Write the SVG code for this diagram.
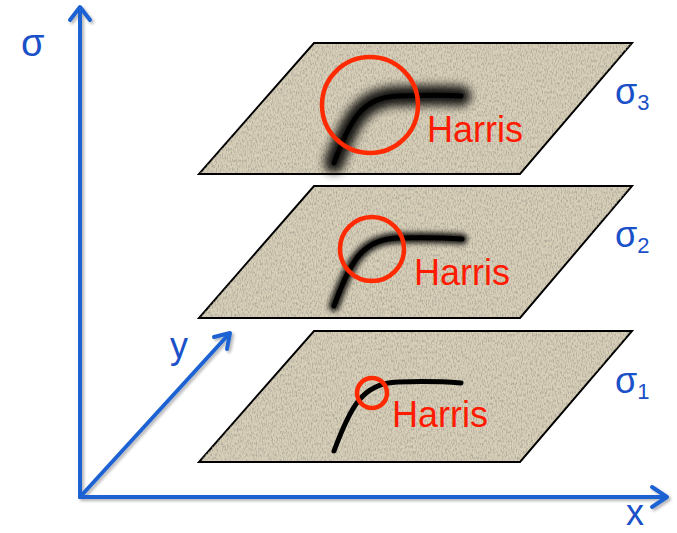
<svg xmlns="http://www.w3.org/2000/svg" width="677" height="533" viewBox="0 0 677 533">
<style>
.plane{fill:#d8cfb8;stroke:#000;stroke-width:2;}
.tex{fill:#000;filter:url(#noise);}
.curve{fill:none;stroke:#000;stroke-width:5;stroke-linecap:round;}
.circ{fill:none;stroke:#ff2a00;stroke-width:4.5;}
.harris{font-family:"Liberation Sans",Arial,sans-serif;font-size:36px;fill:#ff1a00;}
.lbl{font-family:"Liberation Sans",Arial,sans-serif;fill:#1a50c8;}
.axis{fill:none;stroke:#1f62d2;stroke-width:4;stroke-linecap:round;stroke-linejoin:round;}
</style>
<defs>
<filter id="noise" x="0" y="0" width="100%" height="100%">
<feTurbulence type="fractalNoise" baseFrequency="0.8 0.35" numOctaves="2" seed="3"/>
<feColorMatrix type="matrix" values="0 0 0 0 0.42  0 0 0 0 0.39  0 0 0 0 0.32  0 0 0 -2.5 1.45"/>
<feComposite in2="SourceGraphic" operator="in"/>
</filter>
<filter id="blur3" x="-30%" y="-30%" width="160%" height="160%">
<feGaussianBlur stdDeviation="5"/>
</filter>
<filter id="blur2" x="-30%" y="-30%" width="160%" height="160%">
<feGaussianBlur stdDeviation="2.5"/>
</filter>
<filter id="ashadow" x="-20%" y="-20%" width="140%" height="140%">
<feGaussianBlur in="SourceAlpha" stdDeviation="1.5"/>
<feOffset dx="2" dy="2"/>
<feComponentTransfer><feFuncA type="linear" slope="0.3"/></feComponentTransfer>
<feMerge><feMergeNode/><feMergeNode in="SourceGraphic"/></feMerge>
</filter>
</defs>

<g id="plane3">
<polygon class="plane" points="314,43 632,43 520,174 199,174"/>
<polygon class="tex" points="315,44 631,44 519,173 200,173"/>
<path d="M334,163 C350,120 362,97 398,96 C430,95 448,95 461,96" fill="none" stroke="#000" stroke-width="20" stroke-linecap="round" filter="url(#blur3)" opacity="0.9"/>
<path class="curve" d="M334,163 C350,120 362,97 398,96 C430,95 448,95 461,96"/>
<circle class="circ" cx="370" cy="105" r="48"/>
<text class="harris" x="427" y="142">Harris</text>
</g>

<g id="plane2">
<polygon class="plane" points="314,186 632,186 520,318 199,318"/>
<polygon class="tex" points="315,187 631,187 519,317 200,317"/>
<path d="M334,306 C350,262 362,239 398,238 C430,237 448,238 462,239" fill="none" stroke="#000" stroke-width="11" stroke-linecap="round" filter="url(#blur2)" opacity="0.85"/>
<path class="curve" d="M334,306 C350,262 362,239 398,238 C430,237 448,238 462,239"/>
<circle class="circ" cx="372" cy="249" r="32"/>
<text class="harris" x="414" y="285">Harris</text>
</g>

<g id="plane1">
<polygon class="plane" points="314,331 632,331 520,462 199,462"/>
<polygon class="tex" points="315,332 631,332 519,461 200,461"/>
<path class="curve" d="M334,451 C350,408 362,383 398,382 C430,381 448,382 461,383"/>
<circle class="circ" cx="372" cy="393" r="15"/>
<text class="harris" x="392" y="427">Harris</text>
</g>

<g id="connectors" filter="url(#ashadow)">
<path class="axis" d="M80,497 L80,8"/>
<path class="axis" d="M70,20 L80,7 L90,20"/>
<path class="axis" d="M80,497 L666,497"/>
<path class="axis" d="M652,487 L667,497 L652,507"/>
<path class="axis" d="M80,497 L229,334"/>
<path class="axis" d="M214,337 L230,333 L227,349"/>
</g>

<g id="labels">
<text class="lbl" x="21" y="56" font-size="38">σ</text>
<text class="lbl" x="170" y="358" font-size="36">y</text>
<text class="lbl" x="626" y="525" font-size="36">x</text>
<text class="lbl" x="615" y="104" font-size="36">σ<tspan font-size="22" dy="6">3</tspan></text>
<text class="lbl" x="615" y="247" font-size="36">σ<tspan font-size="22" dy="6">2</tspan></text>
<text class="lbl" x="615" y="393" font-size="36">σ<tspan font-size="22" dy="6">1</tspan></text>
</g>
</svg>
